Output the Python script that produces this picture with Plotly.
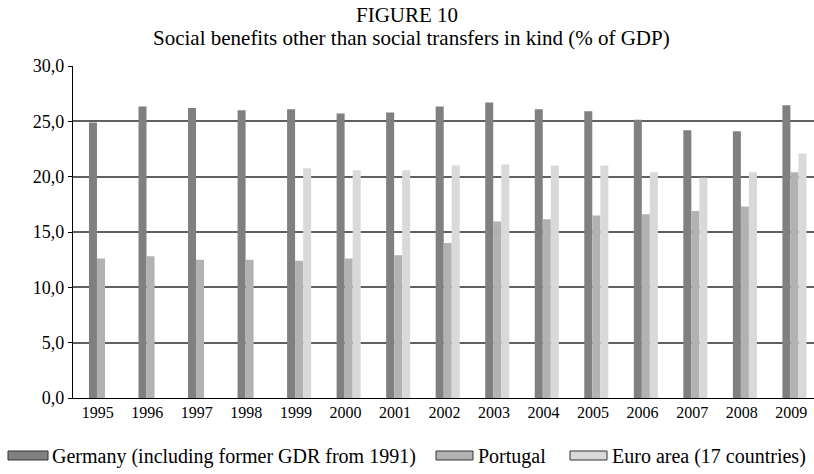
import plotly.graph_objects as go

years = ["1995", "1996", "1997", "1998", "1999", "2000", "2001", "2002",
         "2003", "2004", "2005", "2006", "2007", "2008", "2009"]
germany = [24.9, 26.35, 26.2, 26.0, 26.1, 25.7, 25.8, 26.35, 26.7, 26.1,
           25.9, 25.15, 24.2, 24.1, 26.45]
portugal = [12.6, 12.8, 12.5, 12.5, 12.4, 12.6, 12.9, 14.0, 15.95, 16.15,
            16.5, 16.6, 16.9, 17.3, 20.4]
euro = [None, None, None, None, 20.75, 20.57, 20.57, 21.0, 21.1, 21.0,
        21.0, 20.4, 19.9, 20.4, 22.1]
series_names = ["Germany (including former GDR from 1991)", "Portugal",
                "Euro area (17 countries)"]
colors = ["#808080", "#b2b2b2", "#d9d9d9"]
title = "FIGURE 10"
subtitle = "Social benefits other than social transfers in kind (% of GDP)"
y_ticks = [0, 5, 10, 15, 20, 25, 30]

W, H = 814, 474
ML, MR, MT, MB = 73, 0, 66, 76
PW, PH = W - ML - MR, H - MT - MB
FONT = "Liberation Serif"


def px(x):  # page pixel -> paper fraction
    return (x - ML) / PW


def py(y):
    return (H - MB - y) / PH


fig = go.Figure()
bw = 0.162
offsets = [-0.178, -0.016, 0.146]
for name, vals, col, off in zip(series_names, [germany, portugal, euro], colors, offsets):
    fig.add_trace(go.Bar(x=years, y=vals, name=name, marker=dict(color=col, line=dict(width=0)),
                         width=bw, offset=off, showlegend=False))

fig.update_layout(
    width=W, height=H,
    margin=dict(l=ML, r=MR, t=MT, b=MB, autoexpand=False),
    plot_bgcolor="white", paper_bgcolor="white",
    barmode="overlay",
    separators=",.",
    font=dict(family=FONT, color="black"),
    xaxis=dict(type="category", range=[-0.5, 14.46], showgrid=False,
               automargin=False,
               showline=True, linecolor="black", linewidth=1.2, ticks="",
               tickfont=dict(size=16, family=FONT, color="black")),
    yaxis=dict(range=[0, 30], tickvals=y_ticks, tickformat=".1f",
               automargin=False,
               showgrid=True, gridcolor="#606060", gridwidth=1.5,
               showline=True, linecolor="black", linewidth=1.2,
               ticks="outside", ticklen=4, tickcolor="black",
               tickfont=dict(size=18, family=FONT, color="black"),
               zeroline=False),
)

annotations = [
    dict(text=title, x=px(407), y=py(15), xref="paper", yref="paper",
         showarrow=False, font=dict(size=21, family=FONT, color="black"),
         xanchor="center", yanchor="middle"),
    dict(text=subtitle, x=px(411), y=py(38), xref="paper", yref="paper",
         showarrow=False, font=dict(size=21, family=FONT, color="black"),
         xanchor="center", yanchor="middle"),
]
shapes = []
legend_sym = [(8, 48), (436, 473), (570, 607)]
legend_txt = [50, 476, 610]
for name, col, (x0, x1), tx in zip(series_names, colors, legend_sym, legend_txt):
    shapes.append(dict(type="rect", xref="paper", yref="paper",
                       x0=px(x0), x1=px(x1), y0=py(460), y1=py(451),
                       fillcolor=col, line=dict(color="#333333", width=1)))
    annotations.append(dict(text=name, x=px(tx), y=py(456), xref="paper", yref="paper",
                            showarrow=False, xanchor="left", yanchor="middle",
                            font=dict(size=20, family=FONT, color="black")))
fig.update_layout(annotations=annotations, shapes=shapes)

fig.write_html("out.html", config={"displayModeBar": False},
               post_script="document.body.style.margin='0px';")
